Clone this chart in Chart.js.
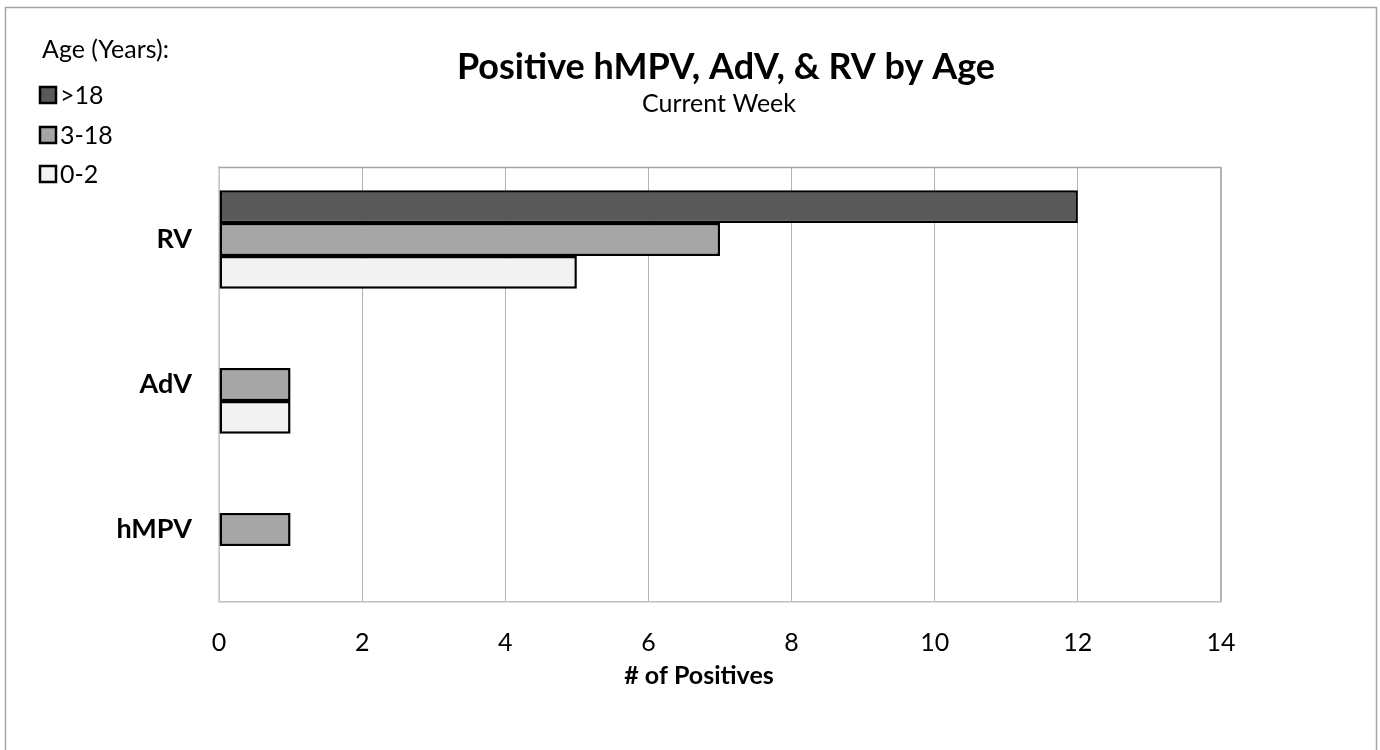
<!DOCTYPE html>
<html lang="en">
<head>
<meta charset="UTF-8">
<title>Positive hMPV, AdV, & RV by Age</title>
<style>
    html, body { margin: 0; padding: 0; background: #fff; }
    #wrap { width: 1380px; height: 750px; position: relative; }
</style>
<script src="https://cdn.jsdelivr.net/npm/chart.js"></script>
</head>
<body>
<div id="wrap"><canvas id="chart" width="1380" height="750"></canvas></div>
<script>
// categories, top to bottom
const viruses = ['RV', 'AdV', 'hMPV'];

// age groups (legend order)
const ageGroups = ['>18', '3-18', '0-2'];
const over18 = [12, 0, 0];
const age3to18 = [7, 1, 1];
const age0to2 = [5, 1, 0];

const xTicks = [0, 2, 4, 6, 8, 10, 12, 14];

const fills = ['#595959', '#a6a6a6', '#f2f2f2'];
const FONT = 'Lato, "Open Sans", sans-serif';

// Titulo, subtitulo, leyenda y marco exterior
const decorations = {
    id: 'decorations',
    beforeDatasetsDraw(chart) {
        const ctx = chart.ctx;
        const a = chart.chartArea;
        ctx.save();
        ctx.strokeStyle = '#a6a6a6';
        ctx.lineWidth = 1.5;
        ctx.beginPath();
        ctx.moveTo(a.left, a.top + 0.5);
        ctx.lineTo(a.right, a.top + 0.5);
        ctx.stroke();
        ctx.restore();
    },
    afterDraw(chart) {
        const ctx = chart.ctx;
        ctx.save();
        // outer frame
        ctx.strokeStyle = '#a6a6a6';
        ctx.lineWidth = 1.5;
        ctx.strokeRect(5.5, 7.5, 1371, 770);

        ctx.fillStyle = '#000';
        ctx.textAlign = 'center';
        ctx.textBaseline = 'middle';
        ctx.font = 'bold 36px ' + FONT;
        ctx.fillText('Positive hMPV, AdV, & RV by Age', 726, 67);
        ctx.font = '25px ' + FONT;
        ctx.fillText('Current Week', 719, 104);

        // axis title
        ctx.font = 'bold 25px ' + FONT;
        ctx.fillText('# of Positives', 699, 676);

        // legend
        ctx.textAlign = 'left';
        ctx.font = '25px ' + FONT;
        ctx.fillText('Age (Years):', 42, 50);
        const ys = [95, 135, 174];
        chart.data.datasets.forEach((ds, i) => {
            ctx.fillStyle = ds.backgroundColor;
            ctx.fillRect(40, ys[i] - 8, 16, 16);
            ctx.strokeStyle = '#000';
            ctx.lineWidth = 2.5;
            ctx.strokeRect(40, ys[i] - 8, 16, 16);
            ctx.fillStyle = '#000';
            ctx.fillText(ds.label, 60, ys[i] + 1);
        });
        ctx.restore();
    }
};

const datasets = [over18, age3to18, age0to2].map((vals, i) => ({
    label: ageGroups[i],
    data: vals,
    backgroundColor: fills[i],
    borderColor: '#000',
    borderWidth: 2.5,
    borderSkipped: false,
    categoryPercentage: 0.68,
    barPercentage: 1.0
}));

new Chart(document.getElementById('chart'), {
    type: 'bar',
    data: { labels: viruses, datasets: datasets },
    options: {
        indexAxis: 'y',
        responsive: false,
        animation: false,
        layout: { padding: { top: 167, right: 159, left: 0, bottom: 0 } },
        plugins: {
            legend: { display: false },
            title: { display: false },
            tooltip: { enabled: false }
        },
        scales: {
            x: {
                min: xTicks[0],
                max: xTicks[xTicks.length - 1],
                afterBuildTicks(scale) { scale.ticks = xTicks.map(v => ({ value: v })); },
                afterFit(scale) { scale.height = 148; },
                grid: {
                    color: '#b3b3b3',
                    lineWidth: ctx => (ctx.tick && ctx.tick.value === 14 ? 2 : 1),
                    drawTicks: false
                },
                border: { color: '#bfbfbf', width: 1.5 },
                ticks: {
                    padding: 26,
                    color: '#000',
                    font: { family: FONT, size: 25 }
                }
            },
            y: {
                afterFit(scale) { scale.width = 219; },
                grid: { display: false, drawTicks: false },
                border: { color: '#d9d9d9', width: 1.5 },
                ticks: {
                    padding: 27,
                    color: '#000',
                    font: { family: FONT, size: 27, weight: 'bold' }
                }
            }
        }
    },
    plugins: [decorations]
});
</script>
</body>
</html>
